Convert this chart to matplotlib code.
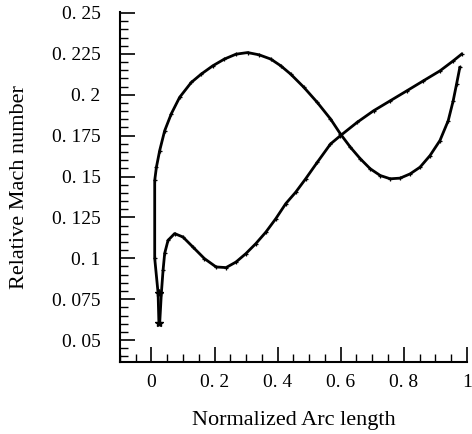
import numpy as np
import matplotlib.pyplot as plt
from matplotlib.ticker import MultipleLocator, FuncFormatter

# suction side (upper hump)
suction_x = [0.0237, 0.0211, 0.0104, 0.0104, 0.0158, 0.0262, 0.0420, 0.0631, 0.0893, 0.1262,
             0.1577, 0.1946, 0.2312, 0.2681, 0.3050, 0.3416, 0.3785, 0.4101, 0.4416, 0.4836,
             0.5259, 0.5678, 0.5994, 0.6309, 0.6625, 0.6940, 0.7256, 0.7571, 0.7886, 0.8202,
             0.8517, 0.8833, 0.9148, 0.9410, 0.9568, 0.9675, 0.9779]
suction_y = [0.0604, 0.0787, 0.1000, 0.1476, 0.1557, 0.1659, 0.1780, 0.1884, 0.1984, 0.2075,
             0.2126, 0.2177, 0.2218, 0.2248, 0.2258, 0.2244, 0.2218, 0.2177, 0.2126, 0.2045,
             0.1953, 0.1852, 0.1760, 0.1679, 0.1608, 0.1547, 0.1506, 0.1486, 0.1490, 0.1516,
             0.1557, 0.1628, 0.1720, 0.1841, 0.1963, 0.2065, 0.2167]

# pressure side (dip near the leading edge, then rising to the trailing edge)
pressure_x = [0.0262, 0.0315, 0.0369, 0.0420, 0.0527, 0.0735, 0.1000, 0.1315, 0.1681, 0.2050,
              0.2366, 0.2681, 0.2997, 0.3312, 0.3628, 0.3943, 0.4259, 0.4574, 0.4890, 0.5259,
              0.5678, 0.5994, 0.6521, 0.7044, 0.7571, 0.8098, 0.8621, 0.9148, 0.9568, 0.9833]
pressure_y = [0.0602, 0.0787, 0.0927, 0.1030, 0.1110, 0.1151, 0.1130, 0.1069, 0.0998, 0.0947,
              0.0943, 0.0977, 0.1029, 0.1090, 0.1160, 0.1242, 0.1334, 0.1404, 0.1486, 0.1587,
              0.1699, 0.1750, 0.1831, 0.1902, 0.1963, 0.2024, 0.2085, 0.2146, 0.2207, 0.2248]

# stagnation points marked with stars
star_x = [0.025, 0.024]
star_y = [0.0787, 0.0604]

plt.rcParams['font.family'] = ['Liberation Serif', 'DejaVu Serif']

fig = plt.figure(figsize=(4.72, 4.34), dpi=100)
ax = fig.add_axes([0.254, 0.166, 0.735, 0.806])

ax.plot(suction_x, suction_y, color='black', lw=2.0, marker='+', ms=3, mew=0.9)
ax.plot(pressure_x, pressure_y, color='black', lw=2.0, marker='+', ms=3, mew=0.9)
ax.plot(star_x, star_y, ls='none', color='black', marker='*', ms=6)

ax.set_xlim(-0.1, 1.0)
ax.set_ylim(0.0366, 0.2505)

for side in ['top', 'right']:
    ax.spines[side].set_visible(False)
for side in ['left', 'bottom']:
    ax.spines[side].set_linewidth(1.5)

ax.xaxis.set_major_locator(MultipleLocator(0.2))
ax.xaxis.set_minor_locator(MultipleLocator(0.05))
ax.yaxis.set_major_locator(MultipleLocator(0.025))
ax.yaxis.set_minor_locator(MultipleLocator(0.005))


def fmt(v, pos):
    # labels written like "0. 225" as in the original
    s = ('%.3f' % v).rstrip('0').rstrip('.')
    if s in ('0', '-0'):
        return '0'
    if '.' in s:
        a, b = s.split('.')
        return a + '. ' + b
    return s


ax.xaxis.set_major_formatter(FuncFormatter(fmt))
ax.yaxis.set_major_formatter(FuncFormatter(fmt))

ax.tick_params(which='major', direction='in', length=11, width=1.2, labelsize=14)
ax.tick_params(which='minor', direction='in', length=6, width=1.0)
ax.tick_params(axis='y', which='major', pad=14)
ax.tick_params(axis='x', which='major', pad=9)

ax.set_xlabel('Normalized Arc length', fontsize=16, labelpad=14)
ax.set_ylabel('Relative Mach number', fontsize=16, labelpad=16)

fig.savefig('out.png', dpi=100)
